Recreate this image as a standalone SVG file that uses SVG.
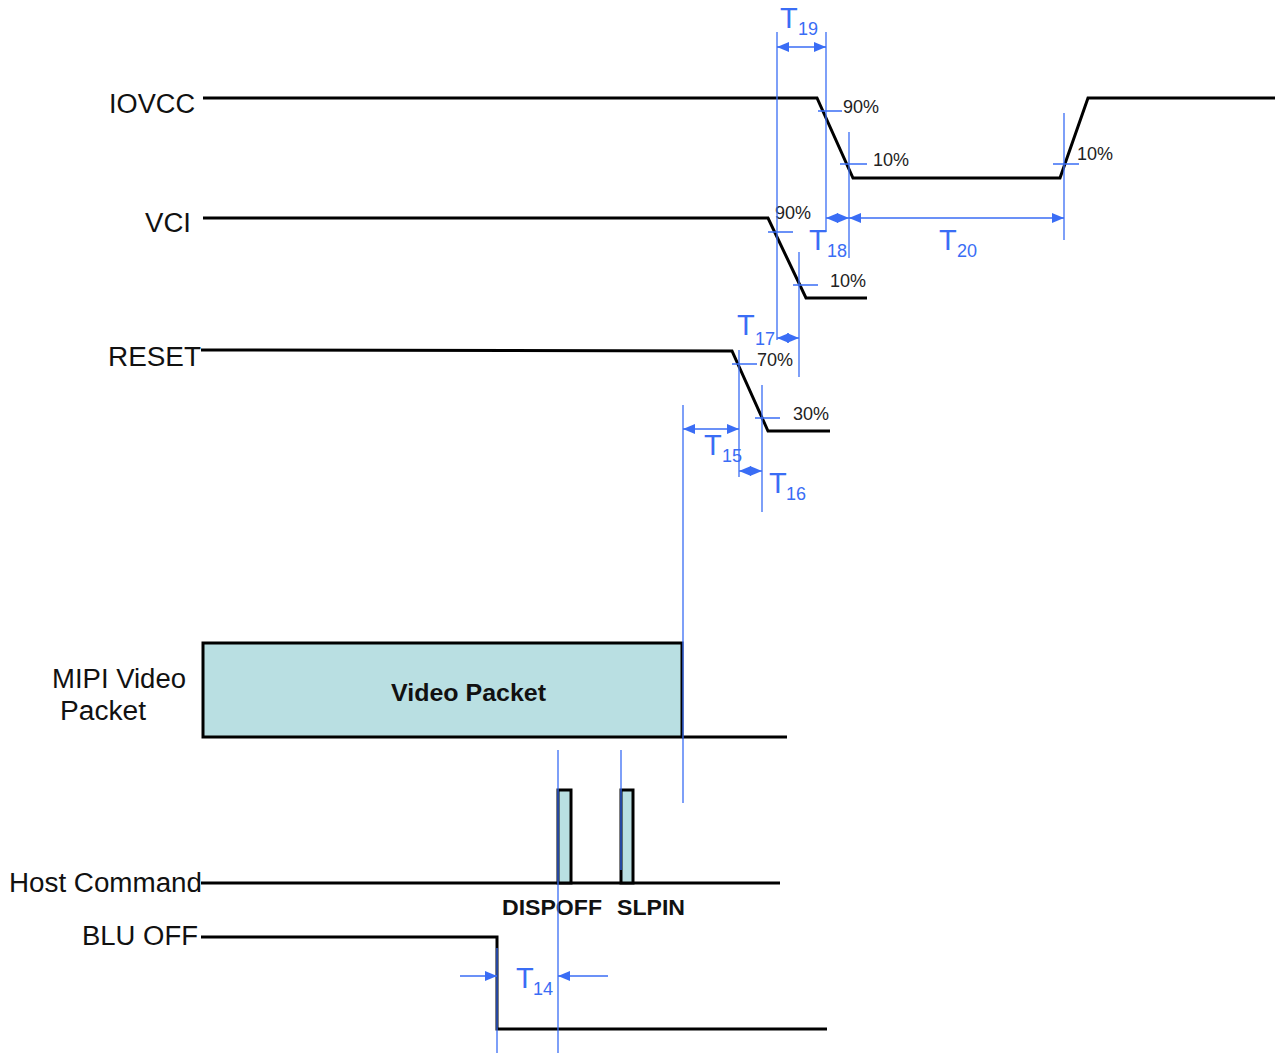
<svg xmlns="http://www.w3.org/2000/svg" width="1279" height="1053" viewBox="0 0 1279 1053">
<defs>
<marker id="ah" viewBox="0 0 12 10" refX="12" refY="5" markerWidth="12" markerHeight="10" markerUnits="userSpaceOnUse" orient="auto-start-reverse">
<path d="M0,0 L12,5 L0,10 Z" fill="#3a6df5"/>
</marker>
</defs>
<style>
.sig{fill:none;stroke:#000;stroke-width:3;stroke-linejoin:miter}
.blu{fill:none;stroke:#3a6df5;stroke-width:1.3}
.dim{fill:none;stroke:#3a6df5;stroke-width:1.3;marker-start:url(#ah);marker-end:url(#ah)}
.one{fill:none;stroke:#3a6df5;stroke-width:1.3;marker-end:url(#ah)}
.lbl{font-family:"Liberation Sans",Arial,sans-serif;font-size:27px;fill:#111}
.pct{font-family:"Liberation Sans",Arial,sans-serif;font-size:18px;fill:#222}
.T{font-family:"Liberation Sans",Arial,sans-serif;font-size:29px;fill:#3a6df5}
.sub{font-family:"Liberation Sans",Arial,sans-serif;font-size:18px;fill:#3a6df5}
.bold{font-family:"Liberation Sans",Arial,sans-serif;font-weight:bold;fill:#111}
.pkt{fill:#b9dfe2;stroke:#000;stroke-width:3}
</style>
<rect width="1279" height="1053" fill="#fff"/>

<g id="iovcc">
<text class="lbl" x="109" y="113" textLength="86" lengthAdjust="spacingAndGlyphs">IOVCC</text>
<path class="sig" d="M203,98 L817,98 L853,178 L1060,178 L1088,98 L1275,98"/>
<text class="pct" x="843" y="113">90%</text>
<text class="pct" x="873" y="166">10%</text>
<text class="pct" x="1077" y="160">10%</text>
</g>

<g id="vci">
<text class="lbl" x="145" y="232" textLength="46" lengthAdjust="spacingAndGlyphs">VCI</text>
<path class="sig" d="M203,218 L768,218 L806,298 L867,298"/>
<text class="pct" x="775" y="219">90%</text>
<text class="pct" x="830" y="287">10%</text>
</g>

<g id="reset">
<text class="lbl" x="108" y="366" textLength="93" lengthAdjust="spacingAndGlyphs">RESET</text>
<path class="sig" d="M201,350 L732,351 L768,431 L830,431"/>
<text class="pct" x="757" y="366">70%</text>
<text class="pct" x="793" y="420">30%</text>
</g>

<g id="mipi">
<text class="lbl" x="52" y="688" textLength="134" lengthAdjust="spacingAndGlyphs">MIPI Video</text>
<text class="lbl" x="60" y="720" textLength="86" lengthAdjust="spacingAndGlyphs">Packet</text>
<rect class="pkt" x="203" y="643" width="479" height="94"/>
<path class="sig" d="M682,737 L787,737"/>
<text class="bold" x="391" y="701" font-size="23" textLength="155" lengthAdjust="spacingAndGlyphs">Video Packet</text>
</g>

<g id="host">
<text class="lbl" x="9" y="892" textLength="193" lengthAdjust="spacingAndGlyphs">Host Command</text>
<path class="sig" d="M201,883 L780,883"/>
<rect class="pkt" x="558" y="790" width="13" height="93"/>
<rect class="pkt" x="621" y="790" width="12" height="93"/>
<text class="bold" x="502" y="915" font-size="22" textLength="100" lengthAdjust="spacingAndGlyphs">DISPOFF</text>
<text class="bold" x="617" y="915" font-size="22" textLength="68" lengthAdjust="spacingAndGlyphs">SLPIN</text>
</g>

<g id="bluoff">
<text class="lbl" x="82" y="945" textLength="116" lengthAdjust="spacingAndGlyphs">BLU OFF</text>
<path class="sig" d="M201,937 L497,937 L497,1029 L827,1029"/>
</g>

<g id="connectors">
<path class="blu" d="M777,32 V340 M826,32 V232 M849,132 V258 M1064,113 V240 M799,252 V377 M739,350 V477 M762,385 V512 M683,405 V803 M558,750 V1053 M621,750 V870 M497,948 V1053"/>
<path class="blu" d="M818,111 H842 M840,164 H867 M1053,164 H1079 M768,232 H793 M793,285 H818 M732,364 H757 M755,418 H780"/>
<line class="dim" x1="777" y1="47" x2="826" y2="47"/>
<line class="dim" x1="826" y1="218" x2="849" y2="218"/>
<line class="dim" x1="849" y1="218" x2="1064" y2="218"/>
<line class="dim" x1="777" y1="338" x2="799" y2="338"/>
<line class="dim" x1="683" y1="429" x2="739" y2="429"/>
<line class="dim" x1="739" y1="471" x2="762" y2="471"/>
<line class="one" x1="460" y1="976" x2="497" y2="976"/>
<line class="one" x1="608" y1="976" x2="558" y2="976"/>
<text class="T" x="780" y="28">T</text><text class="sub" x="798" y="35">19</text>
<text class="T" x="809" y="250">T</text><text class="sub" x="827" y="257">18</text>
<text class="T" x="939" y="250">T</text><text class="sub" x="957" y="257">20</text>
<text class="T" x="737" y="335">T</text><text class="sub" x="755" y="345">17</text>
<text class="T" x="704" y="455">T</text><text class="sub" x="722" y="462">15</text>
<text class="T" x="769" y="493">T</text><text class="sub" x="786" y="500">16</text>
<text class="T" x="516" y="988">T</text><text class="sub" x="533" y="995">14</text>
</g>
</svg>
